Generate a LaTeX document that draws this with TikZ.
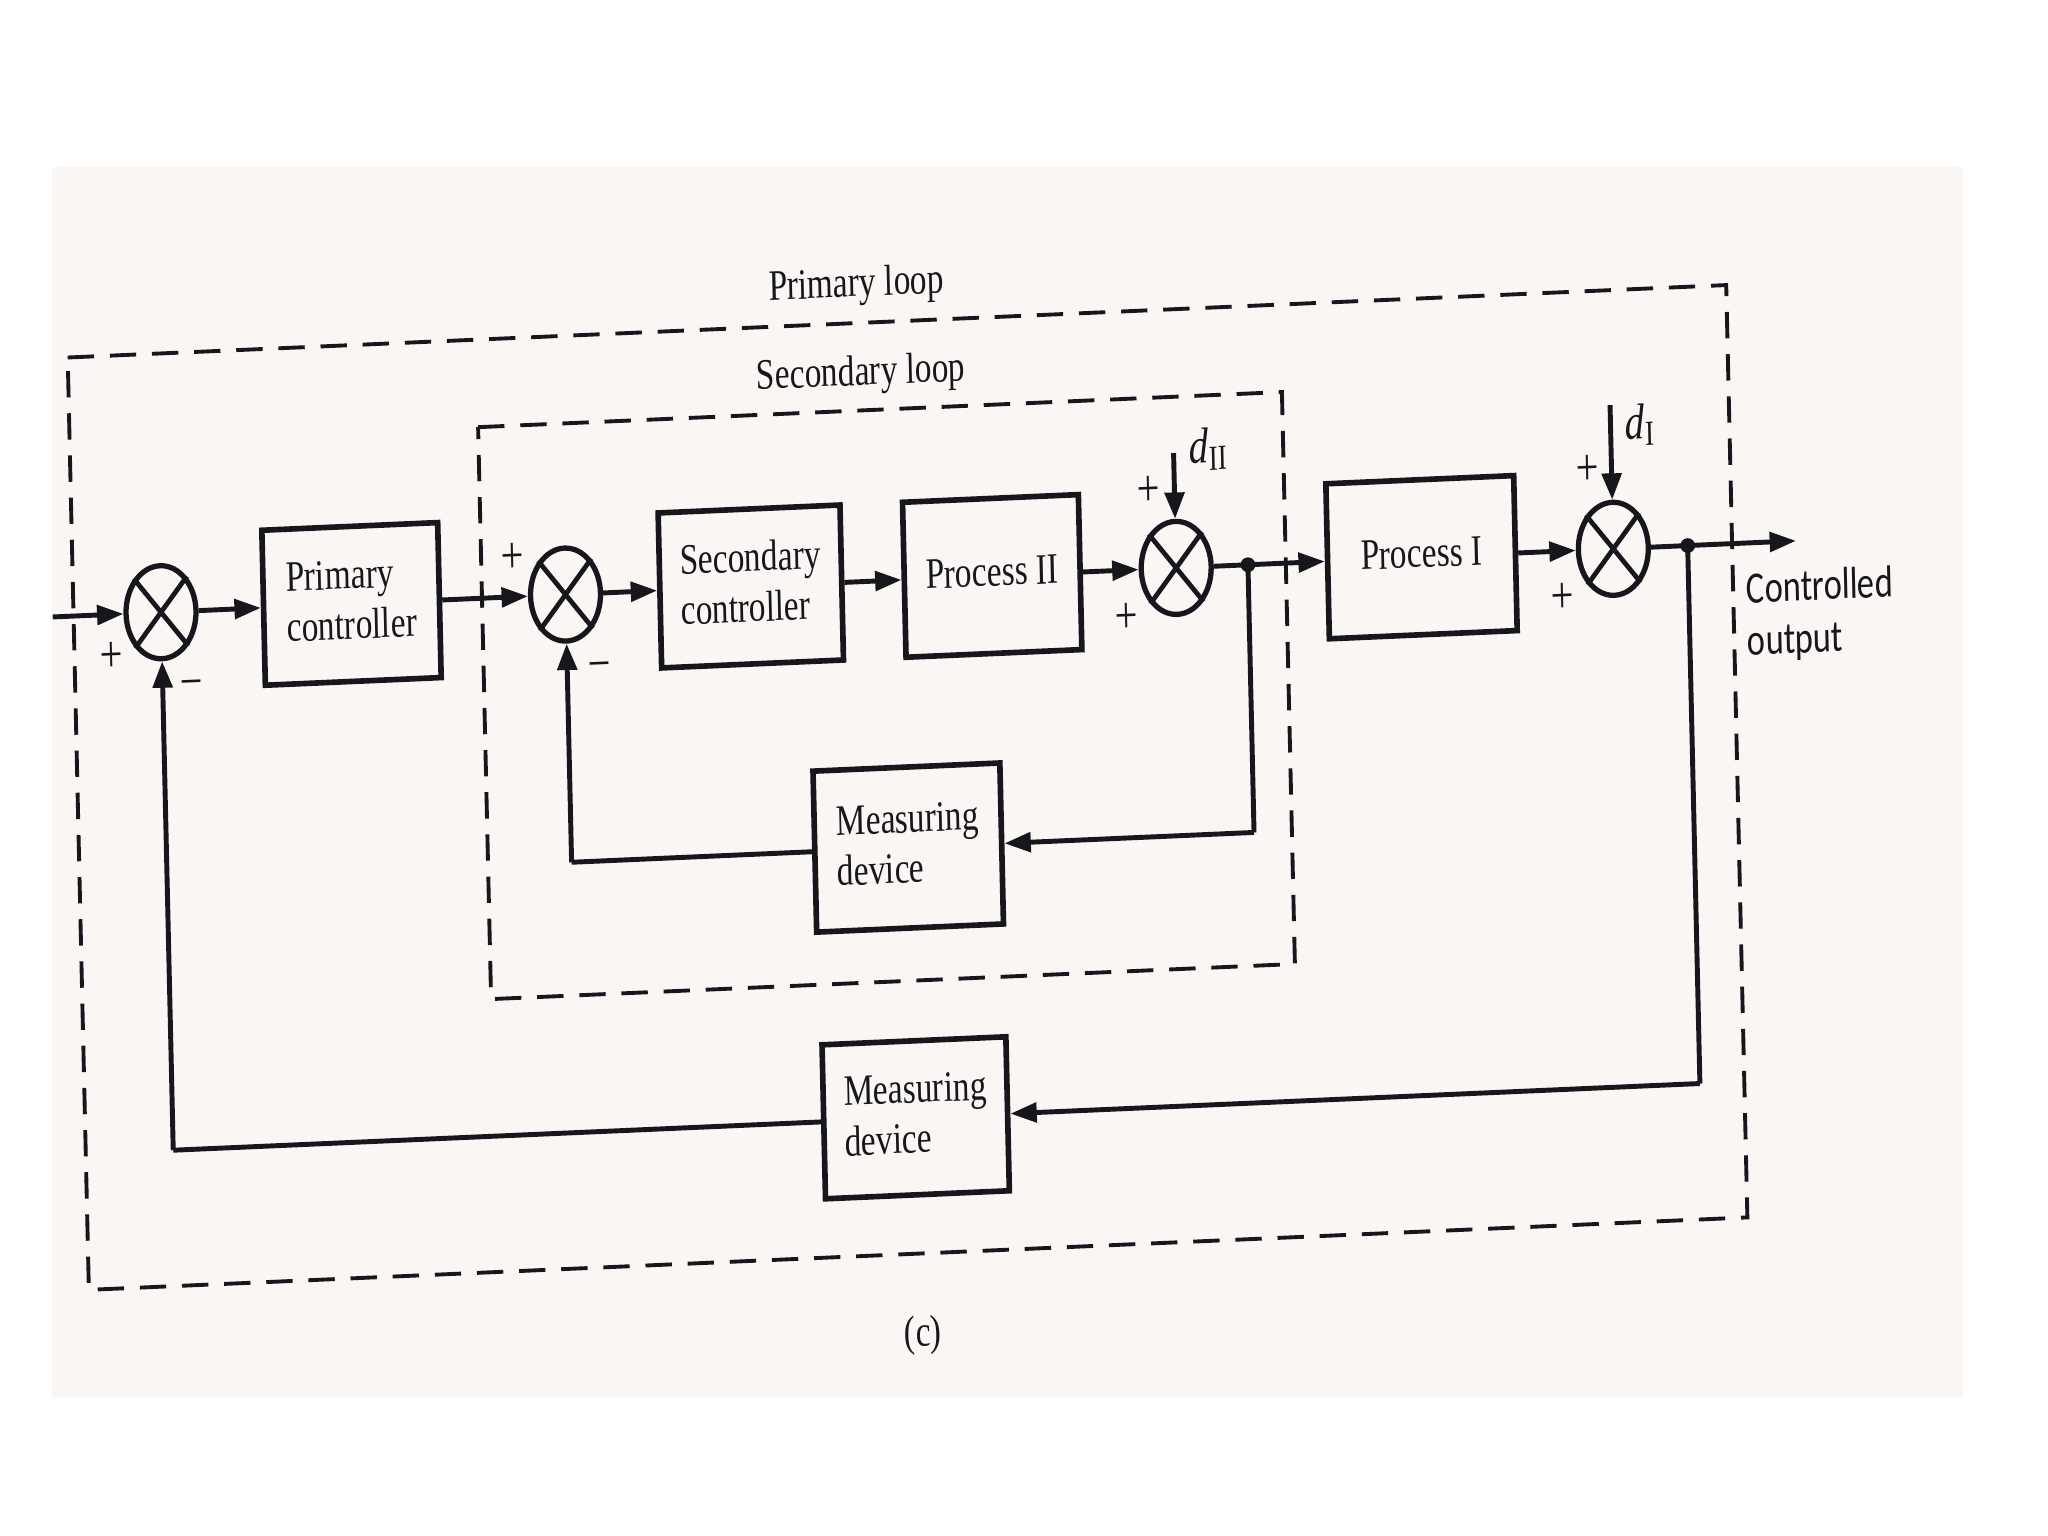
\documentclass[tikz,border=0pt]{standalone}
\usepackage{fontspec}
\setmainfont{Liberation Serif}
\newfontfamily\outfont{Carlito}
\usepackage{graphicx}
\usetikzlibrary{shapes.geometric,arrows.meta}
\definecolor{pagebg}{RGB}{249,246,244}
\definecolor{ink}{RGB}{22,22,28}
\newcommand{\vtext}[1]{\scalebox{1}[1.3]{\begin{tabular}{@{}l@{}}#1\end{tabular}}}
\newcommand{\sumnode}[2]{%
  \node[sumj] (#1) at #2 {};
  \draw[ink, line width=1.35pt] (#1.north west) -- (#1.south east) (#1.north east) -- (#1.south west);}

\begin{document}
\begin{tikzpicture}[
  blk/.style={draw=ink, line width=1.6pt, minimum width=#1, minimum height=1.55cm,
    inner sep=2pt, font=\fontsize{9.5}{11}\selectfont, text=ink, transform shape},
  blk/.default=1.78cm,
  sumj/.style={draw=ink, ellipse, line width=1.5pt, minimum width=0.70cm,
    minimum height=0.93cm, inner sep=0pt, transform shape},
  sig/.style={draw=ink, line width=1.4pt, -{Triangle[length=7.5pt,width=5.5pt]}},
  wire/.style={draw=ink, line width=1.4pt},
  loopbox/.style={draw=ink, line width=1.1pt, dash pattern=on 7.5pt off 4.5pt},
  lbl/.style={font=\fontsize{9.5}{11}\selectfont, transform shape, inner sep=1pt, text=ink},
  sgn/.style={font=\fontsize{11.5}{13}\selectfont, transform shape, inner sep=0pt, text=ink},
  dotj/.style={circle, fill=ink, inner sep=0pt, minimum size=4.2pt}
]
\fill[white] (0,0) rectangle (20.48,-15.36);
\useasboundingbox (0,0) rectangle (20.48,-15.36);
\fill[pagebg] (0.522,-1.672) rectangle (19.631,-13.975);

\begin{scope}[cm={0.99905,0.04362,-0.02269,0.99974,(10.24,-7.68)}, x=0.013061cm, y=-0.013061cm]
  % loop frames
  \draw[loopbox] (-725,-346) -- (546,-346) -- (546,368) -- (-725,368) -- cycle;
  \draw[loopbox] (-412,-279) -- (204,-279) -- (204,159) -- (-412,159) -- cycle;
  \node[lbl] (plabel) at (-120,-374) {\vtext{Primary loop}};
  \node[lbl] (slabel) at (-118,-306) {\vtext{Secondary loop}};

  % blocks
  \node[blk=1.76cm] (pc) at (-512,-148) {\vtext{Primary\\controller}};
  \node[blk=1.82cm] (sc) at (-206,-148) {\vtext{Secondary\\controller}};
  \node[blk=1.76cm] (p2) at (-21,-148) {\vtext{Process II}};
  \node[blk=1.88cm] (p1) at (308,-148) {\vtext{Process I}};
  \node[blk=1.87cm, minimum height=1.61cm] (md1) at (-90,57) {\vtext{Measuring\\device}};
  \node[blk=1.84cm, minimum height=1.54cm] (md2) at (-89,264) {\vtext{Measuring\\device}};

  % summing junctions
  \sumnode{s1}{(-658,-148)}
  \sumnode{s2}{(-348,-148)}
  \sumnode{s3}{(120,-148)}
  \sumnode{s4}{(455,-148)}

  % free ends and corners
  \coordinate (in0) at (-741,-148);
  \coordinate (out0) at (595,-148);
  \coordinate (dtwo) at (120,-236);
  \coordinate (done) at (455,-258);
  \node[dotj] (j1) at (175,-148) {};
  \node[dotj] (j2) at (512,-148) {};
  \coordinate (c1) at (175,57);
  \coordinate (c2) at (-348,57);
  \coordinate (c3) at (512,264);
  \coordinate (c4) at (-658,264);

  % forward path
  \draw[sig] (in0) -- (s1.west);
  \draw[sig] (s1.east) -- (pc.west);
  \draw[sig] (pc.east) -- (s2.west);
  \draw[sig] (s2.east) -- (sc.west);
  \draw[sig] (sc.east) -- (p2.west);
  \draw[sig] (p2.east) -- (s3.west);
  \draw[sig] (s3.east) -- (p1.west);
  \draw[sig] (p1.east) -- (s4.west);
  \draw[sig] (s4.east) -- (out0);
  \draw[sig] (dtwo) -- (s3.north);
  \draw[sig] (done) -- (s4.north);

  % inner feedback
  \draw[wire] (j1.center) -- (c1);
  \draw[sig] (c1) -- (md1.east);
  \draw[wire] (md1.west) -- (c2);
  \draw[sig] (c2) -- (s2.south);

  % outer feedback
  \draw[wire] (j2.center) -- (c3);
  \draw[sig] (c3) -- (md2.east);
  \draw[wire] (md2.west) -- (c4);
  \draw[sig] (c4) -- (s1.south);

  % signs and labels
  \node[sgn] (p_s1) at (-697,-115) {\scalebox{1}[1.3]{+}};
  \node[sgn] (m_s1) at (-636,-88) {\scalebox{1}[1.3]{−}};
  \node[sgn] (p_s2) at (-388,-178) {\scalebox{1}[1.3]{+}};
  \node[sgn] (m_s2) at (-323,-88) {\scalebox{1}[1.3]{−}};
  \node[sgn] (pt_s3) at (100,-208) {\scalebox{1}[1.3]{+}};
  \node[sgn] (pb_s3) at (81,-111) {\scalebox{1}[1.3]{+}};
  \node[sgn] (pt_s4) at (437,-209) {\scalebox{1}[1.3]{+}};
  \node[sgn] (pb_s4) at (415,-112) {\scalebox{1}[1.3]{+}};
  \node[lbl, font=\fontsize{11}{13}\selectfont] (dIIlbl) at (147,-238) {\scalebox{1}[1.3]{\textit{d}\textsubscript{II}}};
  \node[lbl, font=\fontsize{11}{13}\selectfont] (dIlbl) at (478,-242) {\scalebox{1}[1.3]{\textit{d}\textsubscript{I}}};
  \node[lbl, anchor=west, font=\outfont\fontsize{9.8}{11.5}\selectfont] (outlbl) at (553,-90) {\vtext{Controlled\\output}};
  \node[lbl] (cap) at (-87,431) {\vtext{(c)}};
\end{scope}
\end{tikzpicture}
\end{document}
